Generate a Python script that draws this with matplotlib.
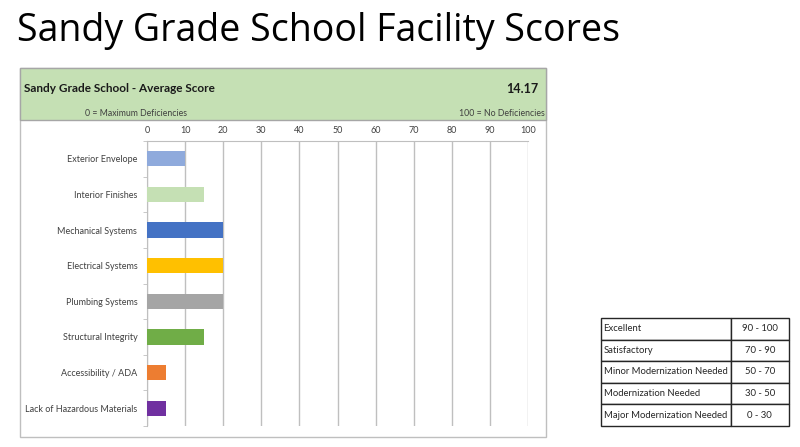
import matplotlib.pyplot as plt
from matplotlib.patches import Rectangle

categories = ['Exterior Envelope', 'Interior Finishes', 'Mechanical Systems',
              'Electrical Systems', 'Plumbing Systems', 'Structural Integrity',
              'Accessibility / ADA', 'Lack of Hazardous Materials']
scores = [10, 15, 20, 20, 20, 15, 5, 5]
bar_colors = ['#8FAADC', '#C5E0B4', '#4472C4', '#FFC000',
              '#A5A5A5', '#70AD47', '#ED7D31', '#7030A0']
x_ticks = list(range(0, 101, 10))
average_score = '14.17'

rating_names = ['Excellent', 'Satisfactory', 'Minor Modernization Needed',
                'Modernization Needed', 'Major Modernization Needed']
rating_ranges = ['90 - 100', '70 - 90', '50 - 70', '30 - 50', '0 - 30']

plt.rcParams['font.family'] = ['Lato', 'DejaVu Sans']

W, H = 800, 447
fig = plt.figure(figsize=(8, 4.47), dpi=100)


def fx(px):
    return px / W


def fy(py):
    return 1 - py / H


fig.text(fx(17), fy(31), 'Sandy Grade School Facility Scores', fontsize=27,
         family=['Open Sans', 'DejaVu Sans'], va='center', ha='left')

# outer panel and green header
fig.patches.append(Rectangle((fx(20), fy(437)), fx(546) - fx(20), fy(68) - fy(437),
                             transform=fig.transFigure, facecolor='white',
                             edgecolor='#BFBFBF', linewidth=1, zorder=-3))
fig.patches.append(Rectangle((fx(20), fy(120)), fx(546) - fx(20), fy(68) - fy(120),
                             transform=fig.transFigure, facecolor='#C5E0B4',
                             edgecolor='#A6A6A6', linewidth=1, zorder=-2))
fig.text(fx(24), fy(89), 'Sandy Grade School - Average Score', fontsize=8.5,
         fontweight='bold', va='center', ha='left', color='#1a1a1a')
fig.text(fx(538), fy(89), average_score, fontsize=9, fontweight='bold',
         va='center', ha='right', color='#1a1a1a')
fig.text(fx(187), fy(113), '0 = Maximum Deficiencies', fontsize=6.3,
         va='center', ha='right', color='#404040')
fig.text(fx(545), fy(113), '100 = No Deficiencies', fontsize=6.3,
         va='center', ha='right', color='#404040')

# bar chart
ax = fig.add_axes([fx(147), fy(426), fx(528) - fx(147), fy(141) - fy(426)])
ax.set_facecolor('none')
y = list(range(len(categories)))
ax.barh(y, scores, height=0.43, color=bar_colors, zorder=3)
ax.set_xlim(0, 100)
ax.set_ylim(len(categories) - 0.5, -0.5)
ax.xaxis.tick_top()
ax.set_xticks(x_ticks)
ax.tick_params(axis='x', length=0, labelsize=6.5, labelcolor='#404040', pad=4.5)
ax.grid(axis='x', color='#BFBFBF', linewidth=1, zorder=0)
ax.set_yticks(y)
ax.set_yticklabels(categories)
ax.set_yticks([i - 0.5 for i in range(len(categories) + 1)], minor=True)
ax.tick_params(axis='y', which='major', length=0, labelsize=6.5,
               labelcolor='#404040', pad=7)
ax.tick_params(axis='y', which='minor', length=3, color='#BFBFBF', direction='out')
for side in ['right', 'bottom']:
    ax.spines[side].set_visible(False)
for side in ['left', 'top']:
    ax.spines[side].set_color('#BFBFBF')

# rating table
tax = fig.add_axes([fx(601), fy(426), fx(789) - fx(601), fy(318) - fy(426)])
tax.axis('off')
cells = [[n, r] for n, r in zip(rating_names, rating_ranges)]
tbl = tax.table(cellText=cells, colWidths=[0.69, 0.31], bbox=[0, 0, 1, 1],
                cellLoc='left')
tbl.auto_set_font_size(False)
for (row, col), cell in tbl.get_celld().items():
    cell.set_edgecolor('#262626')
    cell.set_linewidth(1)
    cell.get_text().set_fontsize(6.8)
    cell.get_text().set_color('#262626')
    if col == 1:
        cell.get_text().set_ha('center')
        cell._loc = 'center'
    else:
        cell.PAD = 0.02

fig.savefig('out.png', dpi=100)
